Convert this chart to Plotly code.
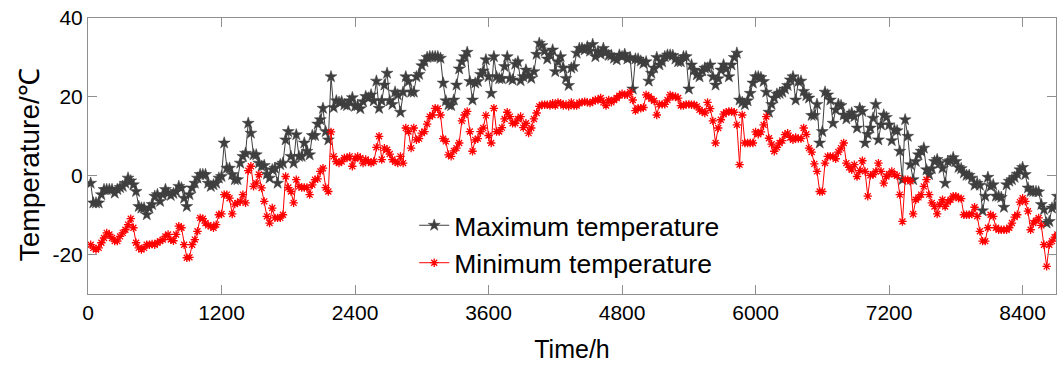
import plotly.graph_objects as go

# Daily maximum / minimum air temperature (°C), one value per day
t_max = [
    -1.9, -6.9, -6.9, -6.9, -4.8, -3.5, -3.5, -3.5, -3.5, -4.4, -3.5, -3.0, -2.7, -1.9, -0.6, -1.3, -2.3, -4.0, -7.8, -8.2,
    -8.2, -9.9, -8.2, -7.3, -5.2, -4.8, -6.5, -4.8, -3.5, -4.4, -5.0, -4.5, -4.0,
    -2.7, -3.1, -5.7, -7.8, -4.8, -3.1, -1.9, -0.6, 0.3, 0.3, 0.3, -1.9, -2.7, -2.3, -1.9, -0.6, -0.2, 8.3, 1.9, 1.9,
    0.3, -1.0, -1.0, 3.2, 4.9, 5.7, 13.3, 10.8, 5.3, 5.3, 3.2, 2.4,
    2.6, 0.4, -0.6, 1.5, 1.9, -1.9, 2.8, 3.2, 9.1, 11.2, 4.9, 3.2, 10.4, 4.9, 4.9, 8.3, 6.2, 5.3, 10.2, 10.2,
    13.1, 14.2, 17.1, 11.2, 9.1, 25.1, 17.3, 19.0, 18.6, 18.8, 18.0, 17.8, 19.0, 19.8,
    17.6, 17.8, 17.0, 18.8, 20.1, 19.7, 20.5, 19.0, 24.0, 17.1, 19.0, 23.0, 26.0, 19.0, 18.1, 21.2, 20.5, 16.1,
    21.2, 25.1, 23.9, 21.2, 21.2, 25.1, 25.7, 27.9, 28.9, 30.0, 30.2, 30.2, 30.2, 30.2, 29.8,
    23.5, 19.0, 18.0, 17.8, 19.2, 23.0, 27.1, 28.9, 30.2, 31.3, 23.9, 19.2, 23.5, 23.9, 25.7, 26.6, 29.4, 25.1,
    20.9, 30.2, 25.1, 24.6, 24.6, 27.7, 30.2, 24.7, 24.3, 28.3, 28.9, 24.1, 25.1, 26.8, 25.5,
    24.7, 26.4, 30.8, 33.6, 33.0, 31.6, 29.6, 30.6, 31.9, 26.4, 28.9, 30.2, 27.3, 24.7, 22.9, 27.3, 27.7, 31.1,
    32.3, 32.3, 31.9, 32.7, 31.6, 33.3, 30.2, 31.5, 30.8, 32.3, 31.3, 30.5, 30.5, 29.8, 29.4,
    30.6, 30.2, 30.8, 29.6, 30.0, 22.0, 29.6, 29.6, 29.1, 28.5, 28.9, 24.0, 26.0, 27.3, 30.0, 28.1, 28.9, 30.2,
    30.6, 30.6, 30.5, 29.6, 28.9, 28.9, 30.2, 30.2, 22.0, 28.1, 26.8, 25.6, 25.1, 26.6, 27.3,
    27.3, 28.1, 25.1, 23.0, 24.6, 26.8, 28.1, 27.1, 25.1, 28.1, 30.0, 31.1, 19.2, 18.6, 18.0, 19.0, 20.9, 23.5,
    25.1, 25.1, 24.9, 23.9, 21.2, 16.1, 18.1, 19.7, 20.7, 20.9, 21.2, 22.0, 22.9, 24.3,
    25.1, 19.2, 23.9, 24.0, 21.4, 20.3, 19.7, 15.3, 15.3, 18.1, 8.3, 11.2, 21.2, 20.5, 19.2, 13.3, 16.7, 18.1,
    17.8, 15.4, 14.4, 15.4, 15.9, 15.0, 12.1, 17.1, 16.3, 8.3, 10.5, 12.1, 14.6, 18.1,
    9.1, 12.9, 15.4, 14.8, 12.9, 8.9, 11.6, 11.4, 6.2, -1.0, 14.2, 10.0, 2.8, -1.0, 3.6, 5.3, 6.2, 7.0, 1.5, 0.3,
    1.8, 3.6, 4.1, 3.2, 1.9, -1.9, 3.6, 3.8, 4.6, 3.6, 2.1, 1.8, 0.7, 0.1,
    0.1, -0.6, -2.4, -1.9, -2.4, -8.9, -5.2, -0.4, -2.7, -2.3, -5.2, -5.2, -5.5, -8.0, -2.3, -1.4, -1.0, -0.4,
    0.4, 1.5, 2.1, 0.3, -3.1, -4.0, -4.0, -4.0, -4.1, -7.3, -8.6, -12.0, -11.6, -8.2, -7.8, -5.2,
]

t_min = [
    -17.5, -18.3, -18.7, -18.3, -17.0, -15.8, -14.5, -14.9, -15.8, -16.6, -16.6, -15.4, -14.5, -13.7, -12.4, -10.9,
    -13.2, -17.0, -18.3, -18.7, -18.3, -17.5, -17.5, -17.3, -17.5, -17.0, -16.6, -16.2, -15.4, -14.9, -16.2, -16.5, -14.9,
    -12.8, -13.2, -17.5, -20.8, -20.7, -17.5, -16.2, -14.1, -10.7, -10.9, -12.0, -12.6, -12.8, -13.2, -12.4, -9.9,
    -9.7, -4.8, -4.8, -5.7, -9.7, -7.2, -6.9, -6.5, -4.8, -6.9, 1.3, 2.4, -2.7, -1.9, 0.3, -3.1,
    -6.5, -10.3, -12.0, -8.2, -10.7, -10.7, -10.7, -9.9, -0.2, -3.0, -4.0, -6.9, -1.0, -2.7, -3.0, -3.0, -3.0,
    -4.8, -2.3, -1.0, -0.8, 1.1, 1.9, -3.0, -4.0, 11.1, 4.9, 3.6, 3.2, 3.6, 4.5, 4.5, 4.9, 2.4,
    4.3, 4.9, 4.5, 3.2, 4.1, 3.6, 3.2, 3.6, 7.2, 10.0, 4.1, 7.0, 6.6, 5.5, 4.1, 3.5, 3.2, 4.9, 3.2, 12.1,
    11.2, 7.0, 12.1, 9.1, 9.4, 10.8, 11.2, 13.1, 15.0, 15.4, 17.1, 17.0, 15.4,
    9.4, 8.7, 5.3, 4.9, 6.3, 7.0, 8.3, 13.9, 15.4, 16.3, 11.2, 6.2, 9.1, 9.4, 11.2, 12.1, 15.3, 10.2, 8.3, 17.1,
    11.2, 11.2, 12.2, 14.4, 16.1, 15.0, 13.3, 13.3, 14.4, 15.0, 12.2, 13.3, 10.8,
    12.1, 14.4, 15.9, 17.6, 18.0, 18.0, 18.0, 17.8, 18.4, 17.8, 18.6, 18.4, 17.8, 18.1, 17.6, 18.6, 17.8, 17.8,
    18.5, 18.6, 18.8, 18.6, 18.4, 18.8, 19.2, 19.2, 19.7, 18.6, 17.8, 19.2, 18.6, 19.2, 19.7,
    20.3, 20.8, 20.5, 20.5, 21.2, 19.2, 16.5, 17.1, 17.1, 17.3, 20.5, 20.1, 19.5, 19.0, 15.4, 18.1, 18.1, 18.1,
    19.2, 20.5, 20.1, 20.1, 19.7, 17.8, 17.8, 18.1, 18.1, 18.0, 18.0, 17.6, 16.7, 16.3, 15.9,
    18.6, 17.0, 13.9, 8.3, 12.1, 14.2, 15.6, 16.1, 16.3, 16.3, 16.1, 12.9, 2.8, 15.4, 8.3, 8.3, 8.3, 8.3,
    11.1, 10.5, 11.1, 12.9, 15.0, 9.5, 8.0, 6.2, 7.2, 8.3, 8.9, 10.4, 10.8, 9.7,
    9.1, 9.7, 9.4, 9.4, 12.1, 10.5, 7.0, 6.0, 3.0, 1.1, -4.0, -4.0, 3.2, 4.9, 4.9, 4.9, 4.3, 6.0, 7.0, 8.3,
    3.2, 2.1, 1.5, 2.8, -0.2, 1.3, 3.8, 1.1, -5.2, 0.1, 0.3, 1.1,
    3.2, 1.1, -1.9, -0.2, 0.4, 1.1, 0.3, 0.0, -4.8, -11.6, -1.0, -1.0, -1.4, -9.7, -6.1, -5.5, -4.8, -2.7,
    -1.0, -4.8, -6.9, -7.8, -9.7, -7.3, -6.1, -7.8, -6.7, -6.1, -5.2, -5.2, -5.7, -5.8, -9.9, -9.9,
    -9.9, -9.7, -8.0, -10.3, -14.1, -16.6, -16.6, -13.2, -9.9, -10.3, -13.2, -13.7, -13.7, -13.7, -13.7, -13.2,
    -12.0, -10.5, -9.9, -6.7, -5.7, -6.5, -9.0, -13.7, -12.0, -11.4, -10.7, -12.6, -17.5, -23.0, -17.5, -16.6,
    -15.6, -14.9,
]

# Time stamp (h) of each daily record
hours = [24 * (i + 1) for i in range(len(t_max))]

x_ticks = [0, 1200, 2400, 3600, 4800, 6000, 7200, 8400]
y_ticks = [-20, 0, 20, 40]

FONT = "Arial, Liberation Sans, sans-serif"
AXIS_GREY = "#8f8f8f"

fig = go.Figure()
fig.add_trace(go.Scatter(
    x=hours, y=t_max, mode="lines+markers", name="Maximum temperature",
    line=dict(color="#3f3f3f", width=1),
    marker=dict(symbol="star", size=9, color="#3f3f3f",
                line=dict(color="#3f3f3f", width=0.5)),
))
fig.add_trace(go.Scatter(
    x=hours, y=t_min, mode="lines+markers", name="Minimum temperature",
    line=dict(color="#ff0000", width=1),
    marker=dict(symbol="asterisk-open", size=7,
                line=dict(color="#ff0000", width=1.3)),
))

axis_common = dict(
    showgrid=False, zeroline=False, showline=True, linecolor=AXIS_GREY, linewidth=1,
    mirror="ticks", ticks="inside", ticklen=9, tickcolor=AXIS_GREY, tickwidth=1,
    tickfont=dict(family=FONT, size=21, color="#000000"),
)

fig.update_layout(
    width=1057, height=369,
    margin=dict(l=88, r=1, t=18, b=75),
    paper_bgcolor="white", plot_bgcolor="white",
    font=dict(family=FONT, color="#000000"),
    xaxis=dict(range=[0, 8700], tickvals=x_ticks, ticktext=[str(v) for v in x_ticks],
               title=dict(text="Time/h", font=dict(family=FONT, size=25), standoff=17),
               **axis_common),
    yaxis=dict(range=[-30, 40], tickvals=y_ticks, ticktext=[str(v) for v in y_ticks],
               **axis_common),
    legend=dict(x=0.337, y=0.335, xanchor="left", yanchor="top",
                bgcolor="rgba(0,0,0,0)", borderwidth=0,
                font=dict(family=FONT, size=26.5, color="#000000"),
                tracegroupgap=0, itemwidth=30),
    showlegend=True,
)

# Vertical axis title, placed beside the tick labels
fig.add_annotation(
    text="Temperature/℃", textangle=-90, showarrow=False,
    xref="paper", yref="paper", x=-0.061, y=0.47,
    xanchor="center", yanchor="middle",
    font=dict(family=FONT, size=28, color="#000000"),
)

fig.write_html("out.html")
